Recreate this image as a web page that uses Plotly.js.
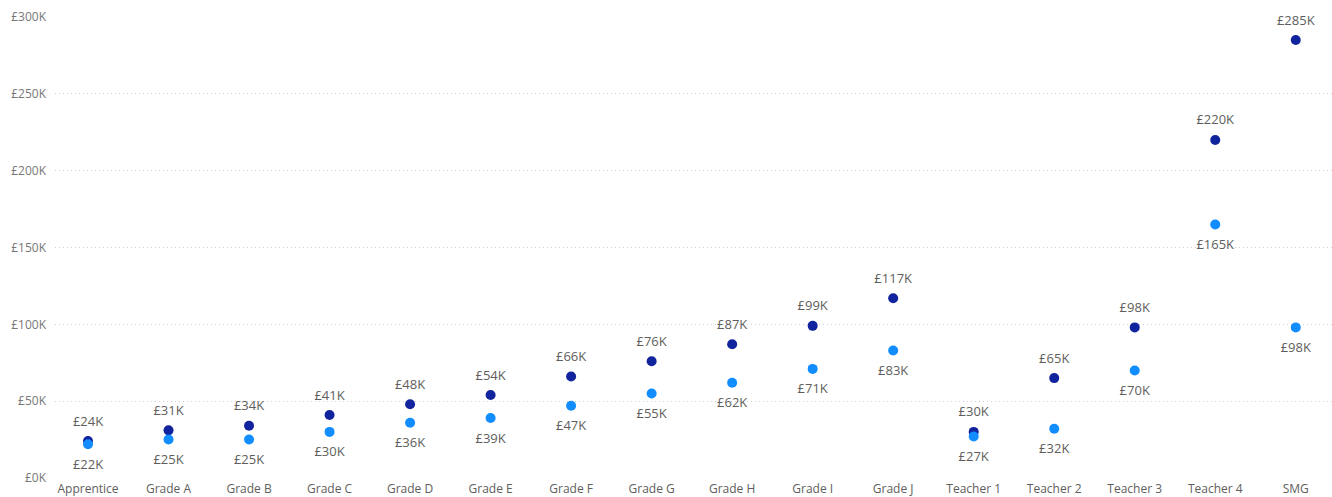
<!DOCTYPE html>
<html>
<head>
<meta charset="utf-8">
<script src="https://cdn.plot.ly/plotly-3.0.1.min.js"></script>
<style>html,body{margin:0;padding:0;background:#fff;}#chart{width:1332px;height:497px;}</style>
</head>
<body>
<div id="chart"></div>
<script>
const categories = ["Apprentice","Grade A","Grade B","Grade C","Grade D","Grade E","Grade F","Grade G","Grade H","Grade I","Grade J","Teacher 1","Teacher 2","Teacher 3","Teacher 4","SMG"];
const maxSalaryK = [24,31,34,41,48,54,66,76,87,99,117,30,65,98,220,285];
const minSalaryK = [22,25,25,30,36,39,47,55,62,71,83,27,32,70,165,98];
const yTicks = [0,50,100,150,200,250,300];
const yTickText = yTicks.map(v => "£" + v + "K");

const fmt = v => "£" + v + "K";
const labelFont = {family: "Open Sans, Segoe UI, sans-serif", size: 13, color: "#605E5C"};
const traces = [
  {
    type: "scatter", mode: "markers", name: "Max",
    x: categories, y: maxSalaryK,
    marker: {color: "#12239E", size: 10}, cliponaxis: false
  },
  {
    type: "scatter", mode: "markers", name: "Min",
    x: categories, y: minSalaryK,
    marker: {color: "#118DFF", size: 10}, cliponaxis: false
  },
  {
    type: "scatter", mode: "markers+text", name: "Max labels",
    x: categories, y: maxSalaryK,
    marker: {color: "rgba(0,0,0,0)", size: 18},
    text: maxSalaryK.map(fmt), textposition: "top center",
    textfont: labelFont, cliponaxis: false
  },
  {
    type: "scatter", mode: "markers+text", name: "Min labels",
    x: categories, y: minSalaryK,
    marker: {color: "rgba(0,0,0,0)", size: 22},
    text: minSalaryK.map(fmt), textposition: "bottom center",
    textfont: labelFont, cliponaxis: false
  }
];
const layout = {
  width: 1332, height: 497,
  margin: {l: 55, r: 0, t: 17, b: 19},
  showlegend: false,
  paper_bgcolor: "#fff", plot_bgcolor: "#fff",
  font: {family: "Open Sans, Segoe UI, sans-serif", color: "#777"},
  xaxis: {
    type: "category", range: [-0.41, 15.45],
    showgrid: false, zeroline: false, showline: false,
    tickfont: {size: 12, color: "#605E5C"}, ticks: "", ticklabelstandoff: 2
  },
  yaxis: {
    range: [0, 300], tickmode: "array", tickvals: yTicks, ticktext: yTickText,
    showgrid: true, gridcolor: "#D0D0D0", griddash: "1px,3px", gridwidth: 1,
    zeroline: false, showline: false,
    tickfont: {size: 12, color: "#777"}, ticks: "", ticklabelstandoff: 8
  }
};
Plotly.newPlot("chart", traces, layout, {displayModeBar: false, staticPlot: true});
</script>
</body>
</html>
